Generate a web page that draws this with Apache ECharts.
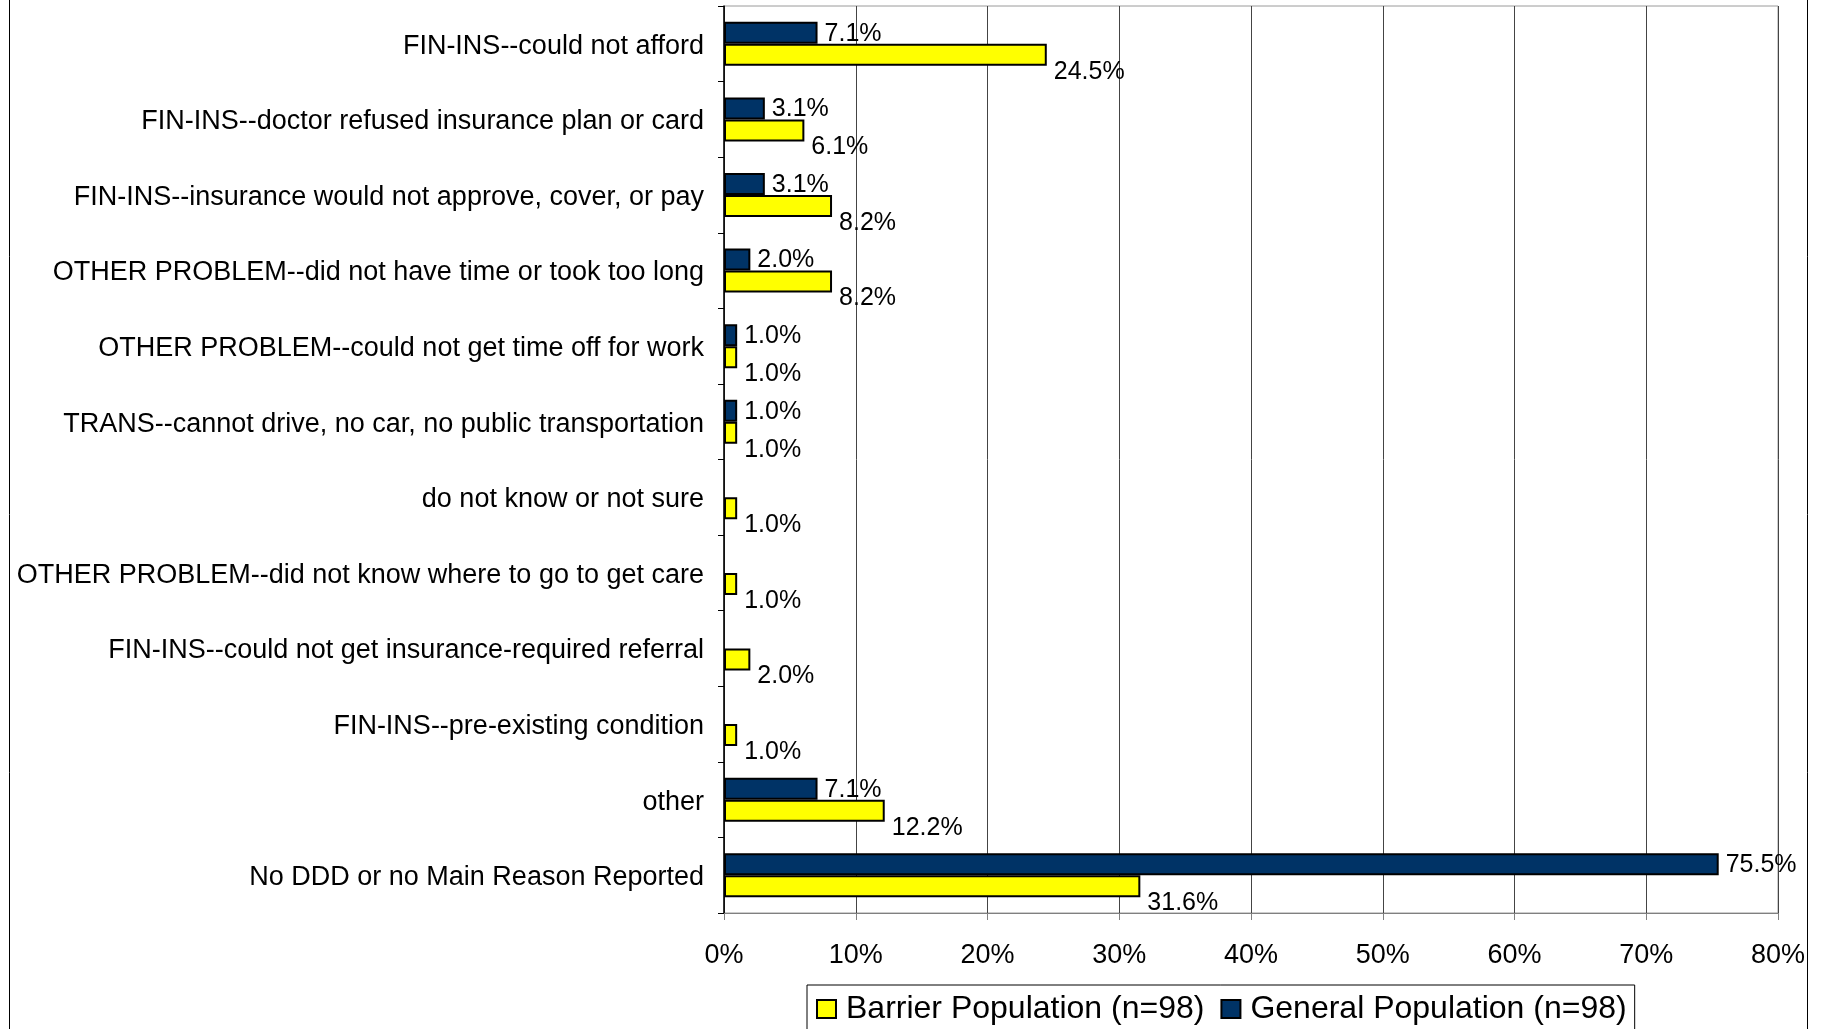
<!DOCTYPE html>
<html>
<head>
<meta charset="utf-8">
<script src="https://cdn.jsdelivr.net/npm/echarts@6/dist/echarts.min.js"></script>
<style>
  html, body { margin: 0; padding: 0; background: #fff; }
  #chart { width: 1824px; height: 1029px; }
</style>
</head>
<body>
<div id="chart"></div>
<script>
// Main reason for delaying or not getting care, by population
const categories = [
  'FIN-INS--could not afford',
  'FIN-INS--doctor refused insurance plan or card',
  'FIN-INS--insurance would not approve, cover, or pay',
  'OTHER PROBLEM--did not have time or took too long',
  'OTHER PROBLEM--could not get time off for work',
  'TRANS--cannot drive, no car, no public transportation',
  'do not know or not sure',
  'OTHER PROBLEM--did not know where to go to get care',
  'FIN-INS--could not get insurance-required referral',
  'FIN-INS--pre-existing condition',
  'other',
  'No DDD or no Main Reason Reported'
];
const generalName = 'General Population (n=98)';
const barrierName = 'Barrier Population (n=98)';
const generalValues = [7.1, 3.1, 3.1, 2.0, 1.0, 1.0, null, null, null, null, 7.1, 75.5];
const barrierValues = [24.5, 6.1, 8.2, 8.2, 1.0, 1.0, 1.0, 1.0, 2.0, 1.0, 12.2, 31.6];
const xTicks = [0, 10, 20, 30, 40, 50, 60, 70, 80];

const FONT = "'Liberation Sans', Arial, sans-serif";
const pct = p => p.value == null ? '' : Number(p.value).toFixed(1) + '%';

const chart = echarts.init(document.getElementById('chart'));
chart.setOption({
  backgroundColor: '#ffffff',
  animation: false,
  textStyle: { fontFamily: FONT, color: '#000' },
  grid: {
    left: 724, right: 46, top: 6, bottom: 116,
    show: true, borderColor: '#9a9a9a', borderWidth: 1, backgroundColor: 'transparent'
  },
  xAxis: {
    type: 'value',
    min: xTicks[0], max: xTicks[xTicks.length - 1], interval: 10,
    axisLine: { show: true, lineStyle: { color: '#808080', width: 1 } },
    axisTick: { show: true, length: 7, lineStyle: { color: '#808080' } },
    splitLine: { show: true, lineStyle: { color: '#444444', width: 1 } },
    axisLabel: { formatter: '{value}%', fontSize: 27, color: '#000', margin: 29, fontFamily: FONT }
  },
  yAxis: {
    type: 'category',
    inverse: true,
    data: categories,
    axisLine: { show: true, lineStyle: { color: '#000', width: 1.5 } },
    axisTick: { show: true, length: 6, lineStyle: { color: '#000' } },
    axisLabel: {
      fontSize: 27, color: '#000', margin: 20, fontFamily: FONT,
      formatter: v => '{c|' + v + '}',
      rich: { c: { fontSize: 27, fontFamily: FONT, color: '#000', padding: [5, 0, 0, 0] } }
    }
  },
  legend: {
    left: 807, top: 985,
    orient: 'horizontal',
    data: [barrierName, generalName],
    backgroundColor: '#fff',
    borderColor: '#000', borderWidth: 1,
    padding: [8, 8, 12, 9],
    icon: 'rect',
    itemWidth: 19, itemHeight: 18, itemGap: 16,
    textStyle: { fontSize: 32, color: '#000', fontFamily: FONT, padding: [2, 0, 0, 5] },
    itemStyle: { borderColor: '#000', borderWidth: 2 }
  },
  series: [
    {
      name: generalName,
      type: 'bar',
      data: generalValues,
      barWidth: 22,
      barGap: '0%',
      itemStyle: { color: '#003366', borderColor: '#000', borderWidth: 2 },
      label: {
        show: true, position: 'right', distance: 7, offset: [0, 1], formatter: pct,
        fontSize: 25, color: '#000', fontFamily: FONT
      }
    },
    {
      name: barrierName,
      type: 'bar',
      data: barrierValues,
      barWidth: 22,
      barGap: '0%',
      itemStyle: { color: '#ffff00', borderColor: '#000', borderWidth: 2 },
      label: {
        show: true, position: 'right', distance: 7, offset: [0, 17], formatter: pct,
        fontSize: 25, color: '#000', fontFamily: FONT
      }
    }
  ],
  graphic: [
    { type: 'line', silent: true, shape: { x1: 9.5, y1: -5, x2: 9.5, y2: 1040 }, style: { stroke: '#000', lineWidth: 1 } },
    { type: 'line', silent: true, shape: { x1: 1807.5, y1: -5, x2: 1807.5, y2: 1040 }, style: { stroke: '#000', lineWidth: 1 } }
  ]
});
</script>
</body>
</html>
